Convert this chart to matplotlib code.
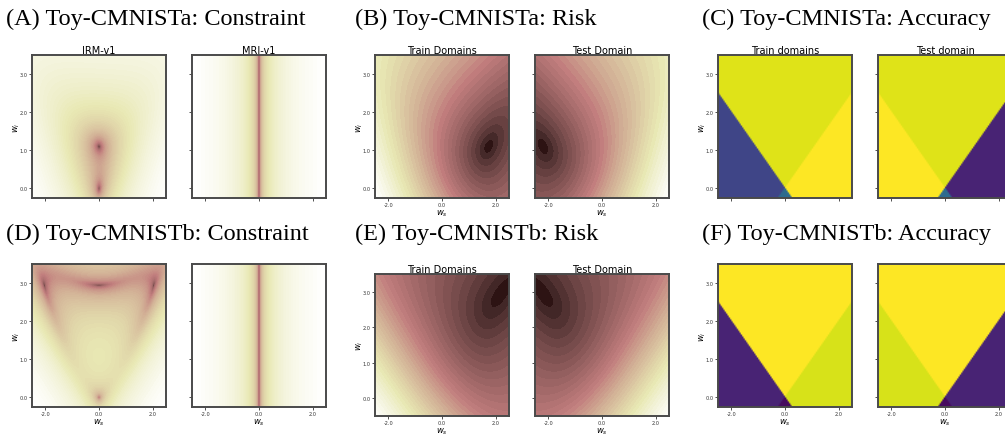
import numpy as np
from matplotlib import pyplot as plt

p_inv = [0.75, 0.95]        # P(x_inv = y)
p_spu_train = [0.85, 0.9]   # P(x_spu = y) in train domains
p_spu_test = [0.1, 0.1]     # P(x_spu = y) in test domain

# colour level of each accuracy region: top, left, right, bottom
acc_train_a = [0.95, 0.21, 1.0, 0.35]
acc_test_a = [0.95, 1.0, 0.10, 0.35]
acc_train_b = [1.0, 0.10, 0.94, 0.03]
acc_test_b = [1.0, 0.94, 0.10, 0.03]

panel_titles = ['(A) Toy-CMNISTa: Constraint', '(B) Toy-CMNISTa: Risk', '(C) Toy-CMNISTa: Accuracy',
                '(D) Toy-CMNISTb: Constraint', '(E) Toy-CMNISTb: Risk', '(F) Toy-CMNISTb: Accuracy']

W, H = 1005, 435


def grid(lo=-0.25, n=200):
    return np.meshgrid(np.linspace(-2.5, 2.5, n), np.linspace(lo, 3.5, int(n * 0.75)))


def combos(pi, ps, ws, wi):
    for a, pa in [(1, pi), (-1, 1 - pi)]:
        for b, pb in [(1, ps), (-1, 1 - ps)]:
            yield wi * a + ws * b, pa * pb


def risk(pi, ps, ws, wi):
    r = sum(p * np.logaddexp(0, -m) for m, p in combos(pi, ps, ws, wi))
    return np.sqrt(r - r.min())


def scale_grad(pi, ps, ws, wi):
    return sum(p * (-m) / (1 + np.exp(m)) for m, p in combos(pi, ps, ws, wi))


def irm_v1(k, ws, wi):
    pen = scale_grad(p_inv[k], p_spu_train[k], ws, wi) ** 2 + scale_grad(p_inv[k], p_spu_test[k], ws, wi) ** 2
    return np.log10(pen + 1e-6)


def mri_v1(k, ws, wi):
    pen = (2 * ws * (p_spu_train[k] - p_spu_test[k])) ** 2
    return np.log10(pen + 1e-4)


def acc_map(acc):
    ws, wi = grid(n=100)
    region = np.where(wi >= abs(ws), 0,
                      np.where(ws <= -abs(wi), 1, np.where(ws >= abs(wi), 2, 3)))
    return np.array(acc)[region]


fig = plt.figure(figsize=(W / 100, H / 100), dpi=100)
cols = [32, 192, 375, 535, 718, 878]
rows = [56, 265]


def add_ax(x0, y0, title=None, xlab=True, ylab=True, ylo=-0.25, h=143):
    ax = fig.add_axes([x0 / W, 1 - (y0 + h) / H, 134 / W, h / H])
    ax.set_xlim(-2.5, 2.5)
    ax.set_ylim(ylo, 3.5)
    ax.set_xticks([-2, 0, 2])
    ax.set_yticks([0, 1, 2, 3])
    ax.set_xticklabels(['-2.0', '0.0', '2.0'] if xlab else [])
    ax.set_yticklabels(['0.0', '1.0', '2.0', '3.0'] if ylab else [])
    ax.tick_params(labelsize=3.6, length=2, width=0.6, pad=1.2, colors='#333')
    if xlab:
        ax.set_xlabel('$w_s$', fontsize=6, labelpad=0)
    if ylab:
        ax.set_ylabel('$w_i$', fontsize=6, labelpad=-2)
    if title:
        ax.set_title(title, fontsize=7, pad=1.5)
    for sp in ax.spines.values():
        sp.set_linewidth(1.4)
        sp.set_color('#4a4a4a')
    return ax


ws, wi = grid()
for k in range(2):
    y0 = rows[k]
    top = k == 0
    # constraint
    ax = add_ax(cols[0], y0, 'IRM-v1' if top else None, xlab=not top)
    ax.contourf(ws, wi, irm_v1(k, ws, wi), levels=100, cmap='pink')
    ax = add_ax(cols[1], y0, 'MRI-v1' if top else None, xlab=not top, ylab=False)
    z = mri_v1(k, ws, wi)
    ax.contourf(ws, wi, z, levels=np.linspace(z.min() - 1.9, z.max(), 100), cmap='pink')
    # risk (lower panel E spans a slightly taller w_i range)
    ylo = -0.25 if top else -0.5
    yr = y0 if top else y0 + 10
    h = 143 if top else 142
    rs, ri = grid(ylo)
    ax = add_ax(cols[2], yr, 'Train Domains', ylo=ylo, h=h)
    ax.contourf(rs, ri, risk(p_inv[k], p_spu_train[k], rs, ri), levels=40, cmap='pink')
    ax = add_ax(cols[3], yr, 'Test Domain', ylab=False, ylo=ylo, h=h)
    ax.contourf(rs, ri, risk(p_inv[k], p_spu_test[k], rs, ri), levels=40, cmap='pink')
    # accuracy
    acc_tr, acc_te = (acc_train_a, acc_test_a) if top else (acc_train_b, acc_test_b)
    ax = add_ax(cols[4], y0, 'Train domains' if top else None, xlab=not top)
    ax.imshow(acc_map(acc_tr), extent=[-2.5, 2.5, -0.25, 3.5], origin='lower', aspect='auto',
              cmap='viridis', vmin=0, vmax=1, interpolation='bilinear')
    ax = add_ax(cols[5], y0, 'Test domain' if top else None, xlab=not top, ylab=False)
    ax.imshow(acc_map(acc_te), extent=[-2.5, 2.5, -0.25, 3.5], origin='lower', aspect='auto',
              cmap='viridis', vmin=0, vmax=1, interpolation='bilinear')

for i, t in enumerate(panel_titles):
    x = [6, 355, 702][i % 3]
    base = [25, 240][i // 3]
    fig.text(x / W, 1 - base / H, t, fontsize=17.5, family='Liberation Serif', va='baseline')

fig.savefig('out.png', dpi=100)
